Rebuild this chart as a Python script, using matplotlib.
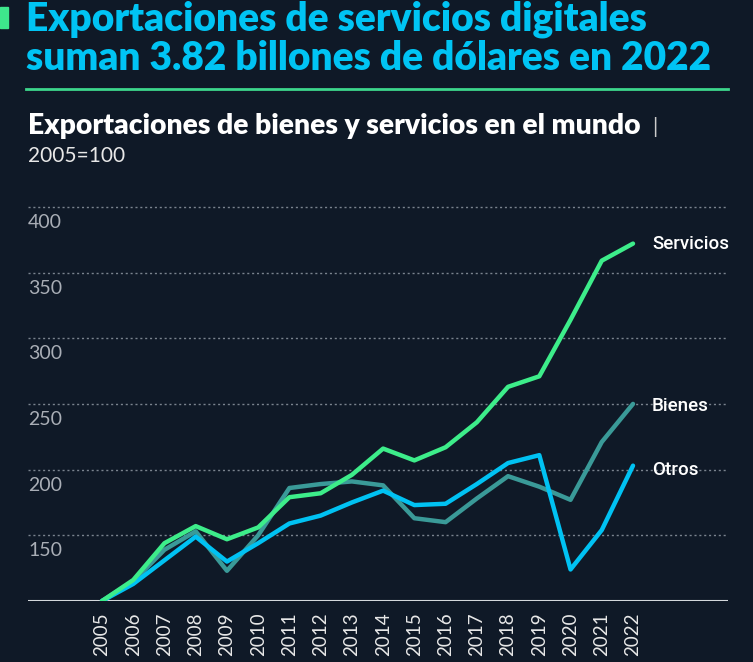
import matplotlib.pyplot as plt
from matplotlib import transforms

years = list(range(2005, 2023))
servicios = [100, 116, 144, 157, 147, 156, 179, 182, 196, 216, 207, 217, 236, 263, 271, 314, 359, 372]
bienes = [100, 115, 139, 153, 123, 150, 186, 189, 191, 188, 163, 160, 178, 195, 187, 177, 221, 250]
otros = [100, 113, 131, 149, 130, 144, 159, 165, 175, 184, 173, 174, 189, 205, 211, 124, 154, 203]
yticks = [150, 200, 250, 300, 350, 400]

bg = '#0f1927'
W, H = 753, 662

fig = plt.figure(figsize=(W / 100, H / 100), dpi=100, facecolor=bg)

def fx(px):
    return px / W

def fy(py):
    return 1 - py / H

# header
fig.patches.append(plt.Rectangle((0, fy(28)), fx(8), fy(7) - fy(28),
                                 transform=fig.transFigure, color='#3ee88c'))
fig.text(fx(26), fy(19), 'Exportaciones de servicios digitales', color='#00c4f4',
         fontsize=28, fontweight='heavy', family='Lato', va='center')
fig.text(fx(26), fy(59), 'suman 3.82 billones de dólares en 2022', color='#00c4f4',
         fontsize=28, fontweight='heavy', family='Lato', va='center')
fig.add_artist(plt.Line2D([fx(26), fx(728)], [fy(89), fy(89)], color='#3dd68c', lw=2))
fig.text(fx(28), fy(126), 'Exportaciones de bienes y servicios en el mundo', color='white',
         fontsize=20.3, fontweight='heavy', family='Lato', va='center')
fig.text(fx(652), fy(127), '|', color='#cccccc', fontsize=15, family='Lato', va='center')
fig.text(fx(28), fy(156), '2005=100', color='#e8e8e8', fontsize=15,
         family='Lato', va='center')

ax = fig.add_axes([fx(28), fy(601), fx(728) - fx(28), fy(200) - fy(601)])
ax.set_facecolor(bg)
ppy = (633 - 102) / 17
ax.set_xlim(2005 - (102 - 28) / ppy, 2022 + (728 - 633) / ppy)
ax.set_ylim(100, 100 + 401 * 50 / 65.7)

for v in yticks:
    ax.axhline(v, color='#7a838e', lw=1, ls=(0, (1.5, 2)), zorder=1)
ax.axhline(100, color='#d4d8dc', lw=1.5, zorder=2)

off = transforms.offset_copy(ax.get_yaxis_transform(), fig=fig, x=0, y=-7, units='dots')
for v in yticks:
    ax.text(0, v, str(v), transform=off, color='#a9aeb6', fontsize=14,
            family='Lato', va='top', ha='left')

ax.plot(years, bienes, color='#3a9a98', lw=3.2, zorder=3, solid_capstyle='round')
ax.plot(years, otros, color='#00c2f3', lw=3.2, zorder=4, solid_capstyle='round')
ax.plot(years, servicios, color='#3ded8a', lw=3.2, zorder=5, solid_capstyle='round')

lab = dict(color='white', fontsize=13.5, family='Roboto', fontweight='medium',
           fontstretch='condensed', va='center', ha='left', textcoords='offset pixels')
ax.annotate('Servicios', (2022, servicios[-1]), xytext=(19, 0), **lab)
ax.annotate('Bienes', (2022, bienes[-1]), xytext=(19, -2), **lab)
ax.annotate('Otros', (2022, otros[-1]), xytext=(19, -4), **lab)

ax.set_xticks(years)
ax.set_xticklabels([str(y) for y in years], rotation=90, color='#e8e8e8',
                   fontsize=13.5, family='Lato')
ax.tick_params(axis='x', length=0, pad=8)
ax.set_yticks([])
for s in ax.spines.values():
    s.set_visible(False)

fig.savefig('out.png', dpi=100, facecolor=bg)
